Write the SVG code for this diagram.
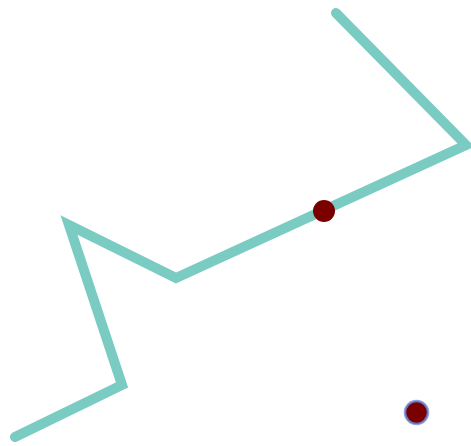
<svg xmlns="http://www.w3.org/2000/svg" width="471" height="446" viewBox="0 0 471 446">
<style>
.line{fill:none;stroke:#7accc3;stroke-width:10;stroke-linecap:round;stroke-linejoin:miter}
.dot{fill:#7a0000}
</style>
<rect width="471" height="446" fill="#ffffff"/>
<g id="connectors">
<polyline class="line" points="336,13 466,145 176,278 69,225 122,385 15,437"/>
</g>
<g id="point1"><circle class="dot" cx="324" cy="211" r="11"/></g>
<g id="point2"><circle class="dot" cx="416.5" cy="412.5" r="11.5" stroke="#6a8de0" stroke-width="2.5" stroke-opacity="0.8"/></g>
</svg>
